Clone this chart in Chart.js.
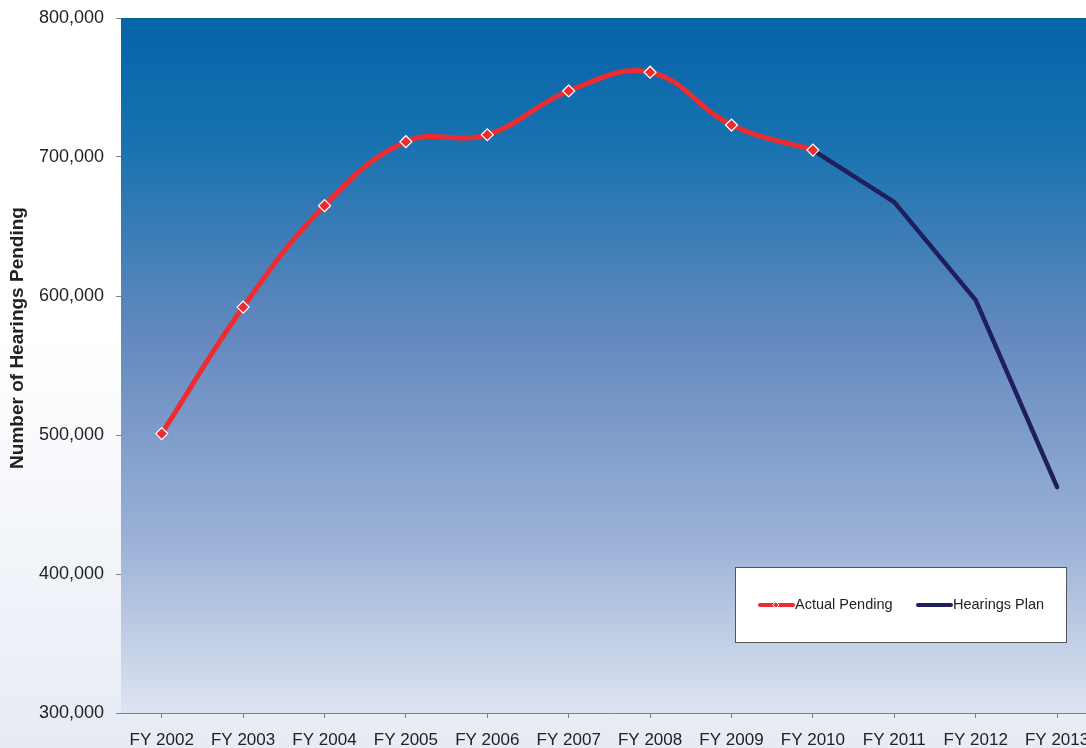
<!DOCTYPE html>
<html>
<head>
<meta charset="utf-8">
<script src="https://cdn.jsdelivr.net/npm/chart.js@4"></script>
<style>
  html, body { margin: 0; padding: 0; overflow: hidden; width: 1086px; height: 748px;
    background: linear-gradient(to bottom, #ffffff 0%, #ffffff 45%, #e6ebf4 100%); }
  #wrap { position: absolute; left: 0; top: 0; width: 1105px; height: 748px; }
</style>
</head>
<body>
<div id="wrap"><canvas id="c"></canvas></div>
<script>
const categories = ['FY 2002','FY 2003','FY 2004','FY 2005','FY 2006','FY 2007','FY 2008','FY 2009','FY 2010','FY 2011','FY 2012','FY 2013'];
const actualPending = [501000, 592000, 665000, 711000, 716000, 747500, 761000, 723000, 705000, null, null, null];
const hearingsPlan = [null, null, null, null, null, null, null, null, 705000, 667500, 597000, 462500];
const yTicks = [300000, 400000, 500000, 600000, 700000, 800000];
const yTitle = 'Number of Hearings Pending';

const plotBg = {
  id: 'plotBg',
  beforeDatasetsDraw(chart) {
    const { ctx, chartArea: a } = chart;
    const g = ctx.createLinearGradient(0, a.top, 0, a.bottom);
    g.addColorStop(0, '#0563a8');
    g.addColorStop(0.18, '#1872b0');
    g.addColorStop(0.45, '#6288be');
    g.addColorStop(0.75, '#9bb1d6');
    g.addColorStop(1, '#dde4f1');
    ctx.save();
    ctx.fillStyle = g;
    ctx.fillRect(a.left, a.top, a.right - a.left, a.bottom - a.top);
    ctx.restore();
  }
};

const axisTitle = {
  id: 'axisTitle',
  afterDraw(chart) {
    const ctx = chart.ctx;
    ctx.save();
    ctx.translate(18, 338);
    ctx.rotate(-Math.PI / 2);
    ctx.font = 'bold 19px "Liberation Sans", Arial, sans-serif';
    ctx.fillStyle = '#222222';
    ctx.textAlign = 'center';
    ctx.textBaseline = 'middle';
    ctx.fillText(yTitle, 0, 0);
    ctx.restore();
  }
};

const boxLegend = {
  id: 'boxLegend',
  afterDraw(chart) {
    const ctx = chart.ctx;
    const x = 735, y = 567, w = 331, h = 75;
    ctx.save();
    ctx.fillStyle = '#ffffff';
    ctx.fillRect(x, y, w, h);
    ctx.strokeStyle = '#555555';
    ctx.lineWidth = 1;
    ctx.strokeRect(x + 0.5, y + 0.5, w, h);
    ctx.font = '14.5px "Liberation Sans", Arial, sans-serif';
    ctx.textBaseline = 'middle';
    ctx.fillStyle = '#222222';
    const cy = 605;
    const items = [
      { ds: chart.data.datasets[0], x0: 760, marker: true },
      { ds: chart.data.datasets[1], x0: 918, marker: false }
    ];
    items.forEach(it => {
      ctx.strokeStyle = it.ds.borderColor;
      ctx.lineWidth = 4;
      ctx.lineCap = 'round';
      ctx.beginPath();
      ctx.moveTo(it.x0, cy);
      ctx.lineTo(it.x0 + 33, cy);
      ctx.stroke();
      if (it.marker) {
        const mx = it.x0 + 16;
        ctx.fillStyle = '#ee2b30';
        ctx.strokeStyle = '#ffffff';
        ctx.lineWidth = 1;
        ctx.beginPath();
        ctx.moveTo(mx, cy - 3); ctx.lineTo(mx + 3, cy); ctx.lineTo(mx, cy + 3); ctx.lineTo(mx - 3, cy); ctx.closePath();
        ctx.fill(); ctx.stroke();
      }
      ctx.fillStyle = '#222222';
      ctx.fillText(it.ds.label, it.x0 + 35, cy);
    });
    ctx.restore();
  }
};

new Chart(document.getElementById('c'), {
  type: 'line',
  data: {
    labels: categories,
    datasets: [
      {
        label: 'Actual Pending',
        data: actualPending,
        borderColor: '#ee2b30',
        borderWidth: 5,
        tension: 0.4,
        pointStyle: 'rectRot',
        pointRadius: 6,
        pointBackgroundColor: '#ee2b30',
        pointBorderColor: '#ffffff',
        pointBorderWidth: 1.2,
        spanGaps: false
      },
      {
        label: 'Hearings Plan',
        data: hearingsPlan,
        borderColor: '#1f1f5e',
        borderWidth: 4.5,
        tension: 0,
        pointRadius: 0,
        borderCapStyle: 'round',
        borderJoinStyle: 'round'
      }
    ]
  },
  options: {
    responsive: true,
    maintainAspectRatio: false,
    animation: false,
    layout: { padding: { left: 8, top: 18, right: 3, bottom: 0 } },
    plugins: { legend: { display: false }, tooltip: { enabled: false } },
    scales: {
      x: {
        offset: true,
        grid: { display: true, drawOnChartArea: false, tickLength: 5, color: '#808080', offset: false },
        border: { color: '#808080', width: 1 },
        ticks: { color: '#222222', font: { size: 17, family: '"Liberation Sans", Arial, sans-serif' }, padding: 12, maxRotation: 0, autoSkip: false },
        afterFit(s) { s.height = 35; s.paddingLeft = 0; s.paddingRight = 0; }
      },
      y: {
        min: 300000,
        max: 800000,
        afterBuildTicks(s) { s.ticks = yTicks.map(v => ({ value: v })); },
        grid: { display: true, drawOnChartArea: false, tickLength: 5, color: '#808080' },
        border: { color: '#808080', width: 1 },
        ticks: {
          color: '#222222',
          font: { size: 18, family: '"Liberation Sans", Arial, sans-serif' },
          padding: 12,
          callback: v => v.toLocaleString('en-US')
        },
        afterFit(s) { s.width = 113; s.paddingTop = 0; s.paddingBottom = 0; }
      }
    }
  },
  plugins: [plotBg, axisTitle, boxLegend]
});
</script>
</body>
</html>
